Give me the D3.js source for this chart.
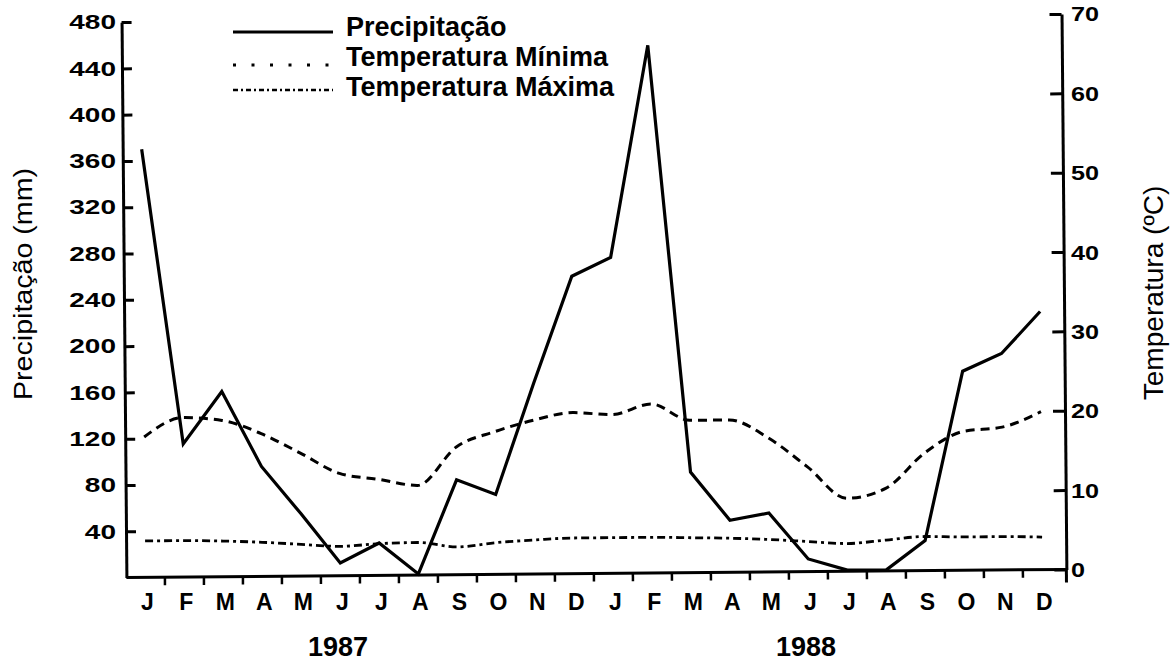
<!DOCTYPE html>
<html><head><meta charset="utf-8">
<script src="https://cdn.jsdelivr.net/npm/d3@7"></script>
<style>
body{margin:0;background:#fff}
svg{display:block}
text{font-family:"Liberation Sans",Arial,Helvetica,sans-serif;fill:#000}
</style>
</head><body>
<svg id="c" width="1172" height="663"></svg>
<script>
// ---- data ----
const months = ["J","F","M","A","M","J","J","A","S","O","N","D","J","F","M","A","M","J","J","A","S","O","N","D"];
const years = ["1987","1988"];
const precipitation = [370,115,160,95,54,11,28,1,82,69,165,257,273,456,87,45,51,11,1,1,26,172,187,223];
const tempUpper = [17.7,20.1,19.7,18.0,15.5,12.9,12.1,11.3,16.1,18.0,19.4,20.3,20.0,21.3,19.2,19.2,16.9,13.2,9.2,10.4,14.8,17.5,18.0,19.9];
const tempLower = [4.6,4.6,4.5,4.3,4.0,3.7,4.0,4.1,3.5,4.0,4.3,4.5,4.5,4.5,4.4,4.3,4.1,3.8,3.5,3.9,4.3,4.2,4.2,4.1];
const precipTicks = [40,80,120,160,200,240,280,320,360,400,440,480];
const tempTicks = [0,10,20,30,40,50,60,70];
const legendLabels = ["Precipitação","Temperatura Mínima","Temperatura Máxima"];
const leftTitle = "Precipitação (mm)";
const rightTitle = "Temperatura (ºC)";

// ---- layout ----
const svg = d3.select("#c");
const xL = 124, xR = 1064, yTop = 18, yBot = 573.5;
const ang = -0.5, cx = 595, cy = 300, rad = ang*Math.PI/180;
function rot(x,y){const dx=x-cx,dy=y-cy;return [cx+dx*Math.cos(rad)-dy*Math.sin(rad), cy+dx*Math.sin(rad)+dy*Math.cos(rad)];}

const x = d3.scalePoint().domain(d3.range(months.length)).range([143,1040]);
const yP = d3.scaleLinear().domain([0,480]).range([yBot,yTop]);
const yT = d3.scaleLinear().domain([0,70]).range([yBot,yTop]);

const g = svg.append("g").attr("transform",`rotate(${ang},${cx},${cy})`);

// left axis
const la = g.append("g").attr("transform",`translate(${xL},0)`)
  .call(d3.axisRight(yP).tickValues(precipTicks).tickSize(10).tickSizeOuter(0).tickFormat(""));
// right axis
const ra = g.append("g").attr("transform",`translate(${xR},0)`)
  .call(d3.axisLeft(yT).tickValues(tempTicks).tickSize(12).tickSizeOuter(0).tickFormat(""));
[la,ra].forEach(a=>{a.selectAll("path,line").attr("stroke","#000").attr("stroke-width",3);});
g.append("line").attr("x1",xR).attr("x2",xR).attr("y1",yBot).attr("y2",yBot+13)
  .attr("stroke","#000").attr("stroke-width",3);
// bottom axis
g.append("line").attr("x1",xL).attr("x2",xR).attr("y1",yBot).attr("y2",yBot)
  .attr("stroke","#000").attr("stroke-width",3);
const step = x.step();
g.selectAll(".bt").data(d3.range(months.length-1)).enter().append("line")
  .attr("x1",i=>x(i)+step/2).attr("x2",i=>x(i)+step/2)
  .attr("y1",yBot).attr("y2",yBot+8).attr("stroke","#000").attr("stroke-width",2.5);

// lines
const lineP = d3.line().x((d,i)=>x(i)).y(d=>yP(d));
const lineT = d3.line().x((d,i)=>x(i)).y(d=>yT(d)).curve(d3.curveMonotoneX);
g.append("path").attr("d",lineT(tempUpper)).attr("fill","none").attr("stroke","#000")
  .attr("stroke-width",3).attr("stroke-dasharray","9,6");
g.append("path").attr("d",lineT(tempLower)).attr("fill","none").attr("stroke","#000")
  .attr("stroke-width",2.8).attr("stroke-dasharray","8,4,3,4");
g.append("path").attr("d",lineP(precipitation)).attr("fill","none").attr("stroke","#000")
  .attr("stroke-width",3.2).attr("stroke-linejoin","miter");

// tick labels (not rotated)
precipTicks.forEach(v=>{
  const p = rot(xL,yP(v));
  svg.append("text").attr("transform",`translate(116,${p[1]}) scale(1.4,1)`)
    .attr("text-anchor","end").attr("dy","0.36em").attr("font-size",20).attr("font-weight","bold").text(v);
});
tempTicks.forEach(v=>{
  const p = rot(xR,yT(v));
  svg.append("text").attr("transform",`translate(1071,${p[1]}) scale(1.2,1)`)
    .attr("text-anchor","start").attr("dy","0.36em").attr("font-size",21).attr("font-weight","bold").text(v);
});
months.forEach((m,i)=>{
  const p = rot(x(i),yBot);
  svg.append("text").attr("x",p[0]+2).attr("y",610).attr("text-anchor","middle")
    .attr("font-size",23).attr("font-weight","bold").text(m);
});
years.forEach((yr,k)=>{
  svg.append("text").attr("x",x(5+12*k)).attr("y",656).attr("text-anchor","middle")
    .attr("font-size",27).attr("font-weight","bold").text(yr);
});

// axis titles
svg.append("text").attr("transform","translate(32,284) rotate(-90) scale(1.1,1)")
  .attr("text-anchor","middle").attr("font-size",26).text(leftTitle);
svg.append("text").attr("transform","translate(1163,293) rotate(-90) scale(1.04,1)")
  .attr("text-anchor","middle").attr("font-size",27).text(rightTitle);

// legend
const legStyles = [
  {dash:null, w:3},
  {dash:"3,15.5", w:3},
  {dash:"5,3,2,3", w:2.5}
];
const legY = [36,66,96];
const legLineY = [32,65,90];
legendLabels.forEach((t,i)=>{
  svg.append("line").attr("x1",233).attr("x2",333).attr("y1",legLineY[i]).attr("y2",legLineY[i])
    .attr("stroke","#000").attr("stroke-width",legStyles[i].w)
    .attr("stroke-dasharray",legStyles[i].dash);
  svg.append("text").attr("x",346).attr("y",legY[i]).attr("font-size",27).attr("font-weight","bold").text(t);
});
</script>
</body></html>
